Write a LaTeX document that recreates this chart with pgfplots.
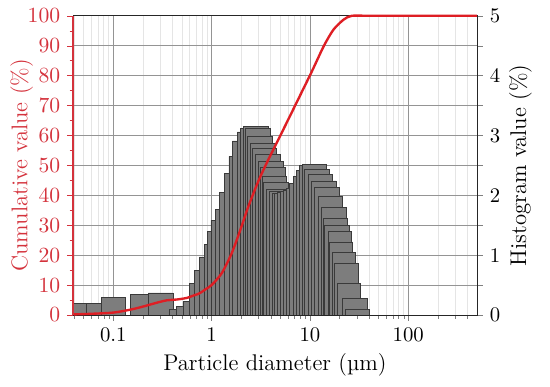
\documentclass[border=0pt]{standalone}
\usepackage{fontspec}
\usepackage{pgfplots}
\pgfplotsset{compat=1.18}
\definecolor{cumred}{RGB}{212,50,60}
\definecolor{curvered}{RGB}{222,30,36}
\definecolor{barfill}{RGB}{125,125,125}
\definecolor{baredge}{RGB}{58,58,58}

% one histogram bar: left edge, right edge, height
\newcommand\hb[3]{\addplot[fill=barfill, draw=baredge, line width=0.35pt, forget plot]
  coordinates {(#1,0) (#1,#3) (#2,#3) (#2,0)} \closedcycle;}

\begin{document}
\begin{tikzpicture}
% histogram, right axis, grid
\begin{axis}[
  scale only axis, width=204.5pt, height=151.5pt,
  xmode=log, xmin=0.039, xmax=500,
  tick align=outside,
  major tick length=3pt, minor tick length=1.8pt,
  tick label style={font=\fontsize{10.5}{12}\selectfont},
  label style={font=\fontsize{11.5}{13}\selectfont},
  ymin=0, ymax=5,
  ytick={0,0.5,...,5}, yticklabels={0,,1,,2,,3,,4,,5},
  ytick pos=right, xtick pos=bottom,
  xtick={0.1,1,10,100}, xticklabels={0.1,1,10,100},
  minor xtick={0.04,0.05,0.06,0.07,0.08,0.09,0.2,0.3,0.4,0.5,0.6,0.7,0.8,0.9,
    2,3,4,5,6,7,8,9,20,30,40,50,60,70,80,90,200,300,400},
  xmajorgrids, xminorgrids, ymajorgrids,
  major grid style={color=black!42, line width=0.4pt},
  minor grid style={color=black!10, line width=0.3pt},
  axis line style={black!85},
  ylabel={Histogram value (\%)},
  ylabel style={at={(axis description cs:1.108,0.5)}, anchor=center},
  xlabel={Particle diameter (µm)},
  xlabel style={at={(axis description cs:0.5,-0.168)}, anchor=center},
]
\hb{0.03}{0.0533}{0.19}
\hb{0.0533}{0.0761}{0.19}
\hb{0.0761}{0.1326}{0.29}
\hb{0.1489}{0.2274}{0.34}
\hb{0.2274}{0.4055}{0.37}
\hb{0.3757}{0.4378}{0.10}
\hb{0.4378}{0.5110}{0.14}
\hb{0.5110}{0.91}{0.22}
\hb{0.597}{1.064}{0.53}
\hb{0.670}{1.195}{0.75}
\hb{0.752}{1.342}{0.97}
\hb{0.841}{1.499}{1.18}
\hb{0.912}{1.626}{1.39}
\hb{0.984}{1.755}{1.58}
\hb{1.097}{1.957}{1.77}
\hb{1.195}{2.131}{2.05}
\hb{1.342}{2.392}{2.36}
\hb{1.499}{2.674}{2.65}
\hb{1.626}{2.900}{2.91}
\hb{1.825}{3.255}{3.06}
\hb{1.970}{3.513}{3.12}
\hb{2.121}{3.784}{3.15}
\hb{2.222}{3.945}{3.12}
\hb{2.327}{4.103}{2.98}
\hb{2.495}{4.428}{2.87}
\hb{2.583}{4.606}{2.79}
\hb{2.788}{4.971}{2.68}
\hb{3.016}{5.379}{2.57}
\hb{3.130}{5.581}{2.46}
\hb{3.255}{5.805}{2.32}
\hb{3.386}{6.038}{2.21}
\hb{3.571}{6.368}{2.10}
\hb{3.828}{6.826}{2.06}
\hb{4.103}{7.317}{2.04}
\hb{4.398}{7.843}{2.04}
\hb{4.714}{8.408}{2.05}
\hb{5.052}{9.013}{2.06}
\hb{5.416}{9.659}{2.08}
\hb{5.805}{10.35}{2.12}
\hb{6.223}{11.10}{2.20}
\hb{6.746}{12.03}{2.32}
\hb{7.233}{12.90}{2.42}
\hb{7.752}{13.82}{2.50}
\hb{8.311}{14.82}{2.52}
\hb{8.867}{15.81}{2.43}
\hb{9.592}{17.11}{2.35}
\hb{10.35}{18.47}{2.24}
\hb{11.17}{19.93}{2.13}
\hb{12.09}{21.57}{1.99}
\hb{13.05}{23.27}{1.80}
\hb{13.57}{24.21}{1.61}
\hb{14.08}{25.12}{1.50}
\hb{15.24}{26.13}{1.40}
\hb{15.81}{27.19}{1.22}
\hb{16.83}{29.33}{1.04}
\hb{17.76}{30.94}{0.86}
\hb{19.20}{32.93}{0.53}
\hb{21.57}{38.46}{0.28}
\hb{22.90}{39.90}{0.09}
\end{axis}
% cumulative curve, left axis
\begin{axis}[
  scale only axis, width=204.5pt, height=151.5pt,
  xmode=log, xmin=0.039, xmax=500,
  tick align=outside,
  major tick length=3pt, minor tick length=1.8pt,
  tick label style={font=\fontsize{10.5}{12}\selectfont},
  label style={font=\fontsize{11.5}{13}\selectfont},
  ymin=0, ymax=100, clip=false,
  axis y line*=left, axis x line=none,
  ytick={0,10,...,100}, minor y tick num=1,
  y axis line style={cumred, line width=0.6pt},
  tick style={cumred},
  yticklabel style={color=cumred},
  ylabel={Cumulative value (\%)},
  ylabel style={color=cumred, at={(axis description cs:-0.127,0.5)}, anchor=center},
]
\addplot[curvered, line width=1.2pt, smooth, tension=0.45] coordinates {
  (0.04,0.2) (0.06,0.4) (0.1,0.8) (0.15,1.8) (0.2,2.8) (0.25,3.7) (0.3,4.4)
  (0.35,4.9) (0.45,5.2) (0.56,5.7) (0.63,6.3) (0.75,7.2) (0.86,8.5) (1.0,10)
  (1.27,14) (1.6,20.6) (1.94,28) (2.35,36) (2.97,44.5) (3.6,50.5) (4.4,56.3)
  (5.5,62.7) (7.2,70.5) (10.5,81.5) (13.9,90) (17.4,95.4) (22,98.7) (26.6,100)
  (40,100) (100,100) (500,100)
};
\end{axis}
\pgfresetboundingbox
\path (-37pt,-36pt) rectangle (241.5pt,159.5pt);
\end{tikzpicture}
\end{document}
